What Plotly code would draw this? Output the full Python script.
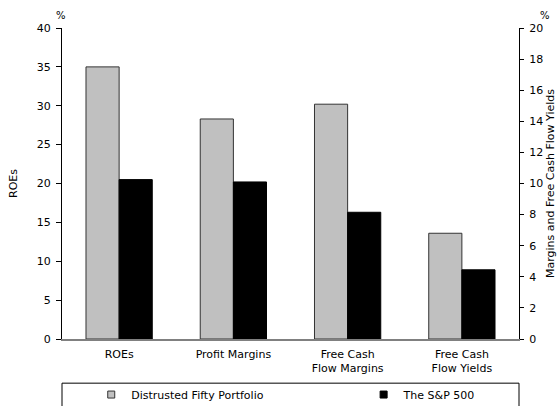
import plotly.graph_objects as go

categories = ["ROEs", "Profit Margins", "Free Cash<br>Flow Margins", "Free Cash<br>Flow Yields"]
series_names = ["Distrusted Fifty Portfolio", "The S&P 500"]
# ROEs on the left axis (%), other metrics on the right axis (%)
distrusted = [35.0, 14.15, 15.1, 6.8]
sp500 = [20.5, 10.1, 8.15, 4.45]
left_ticks = list(range(0, 45, 5))
right_ticks = list(range(0, 22, 2))

FONT = "DejaVu Sans"
FS = 11
GREY = "#c0c0c0"
BLACK = "#000000"
W = 0.29

fig = go.Figure()
# Left-axis bars (ROEs)
fig.add_trace(go.Bar(x=categories[:1], y=distrusted[:1], yaxis="y", width=W, offset=-W,
                     marker=dict(color=GREY, line=dict(color="#333333", width=1)),
                     showlegend=False, name=series_names[0]))
fig.add_trace(go.Bar(x=categories[:1], y=sp500[:1], yaxis="y", width=W, offset=0,
                     marker=dict(color=BLACK, line=dict(color=BLACK, width=1)),
                     showlegend=False, name=series_names[1]))
# Right-axis bars
fig.add_trace(go.Bar(x=categories[1:], y=distrusted[1:], yaxis="y2", width=W, offset=-W,
                     marker=dict(color=GREY, line=dict(color="#333333", width=1)),
                     showlegend=False, name=series_names[0]))
fig.add_trace(go.Bar(x=categories[1:], y=sp500[1:], yaxis="y2", width=W, offset=0,
                     marker=dict(color=BLACK, line=dict(color=BLACK, width=1)),
                     showlegend=False, name=series_names[1]))
# Legend entries
fig.add_trace(go.Scatter(x=[None], y=[None], mode="markers", name=series_names[0], legend="legend",
                         marker=dict(symbol="square", size=7, color=GREY, line=dict(color="#333333", width=1))))
fig.add_trace(go.Scatter(x=[None], y=[None], mode="markers", name=series_names[1], legend="legend2",
                         marker=dict(symbol="square", size=7, color=BLACK, line=dict(color=BLACK, width=1))))

legend_common = dict(orientation="h", xanchor="left", y=-0.132, yanchor="top",
                     itemsizing="trace", font=dict(size=FS), bgcolor="rgba(0,0,0,0)")

fig.update_layout(
    width=557, height=406,
    margin=dict(l=62, r=38, t=28, b=67, autoexpand=False),
    paper_bgcolor="white", plot_bgcolor="white",
    font=dict(family=FONT, size=FS, color="black"),
    barmode="overlay",
    xaxis=dict(type="category", categoryorder="array", categoryarray=categories,
               showline=True, linecolor="#808080", linewidth=1.5, ticks="",
               showgrid=False, tickfont=dict(size=FS), ticklabelstandoff=4),
    yaxis=dict(range=[0, 40], tickvals=left_ticks, showline=True, linecolor="black",
               ticks="outside", ticklen=5, tickcolor="black", showgrid=False, zeroline=False,
               ticklabelstandoff=3,
               title=dict(text="ROEs", font=dict(size=FS), standoff=16)),
    yaxis2=dict(range=[0, 20], tickvals=right_ticks, overlaying="y", side="right",
                showline=True, linecolor="black", ticks="outside", ticklen=4, tickcolor="black",
                showgrid=False, zeroline=False, ticklabelstandoff=3,
                title=dict(text="Margins and Free Cash Flow Yields", font=dict(size=FS), standoff=10)),
    legend=dict(x=0.064, **legend_common),
    legend2=dict(x=0.66, **legend_common),
    shapes=[dict(type="rect", xref="paper", yref="paper", x0=0, x1=1, y0=-0.142, y1=-0.3,
                 line=dict(color="black", width=1), fillcolor="rgba(0,0,0,0)", layer="below")],
    annotations=[
        dict(text="%", xref="paper", yref="paper", x=-0.003, y=1.015, xanchor="center", yanchor="bottom",
             showarrow=False, font=dict(size=10)),
        dict(text="%", xref="paper", yref="paper", x=1.057, y=1.015, xanchor="center", yanchor="bottom",
             showarrow=False, font=dict(size=10)),
    ],
)

fig.write_html("out.html")
